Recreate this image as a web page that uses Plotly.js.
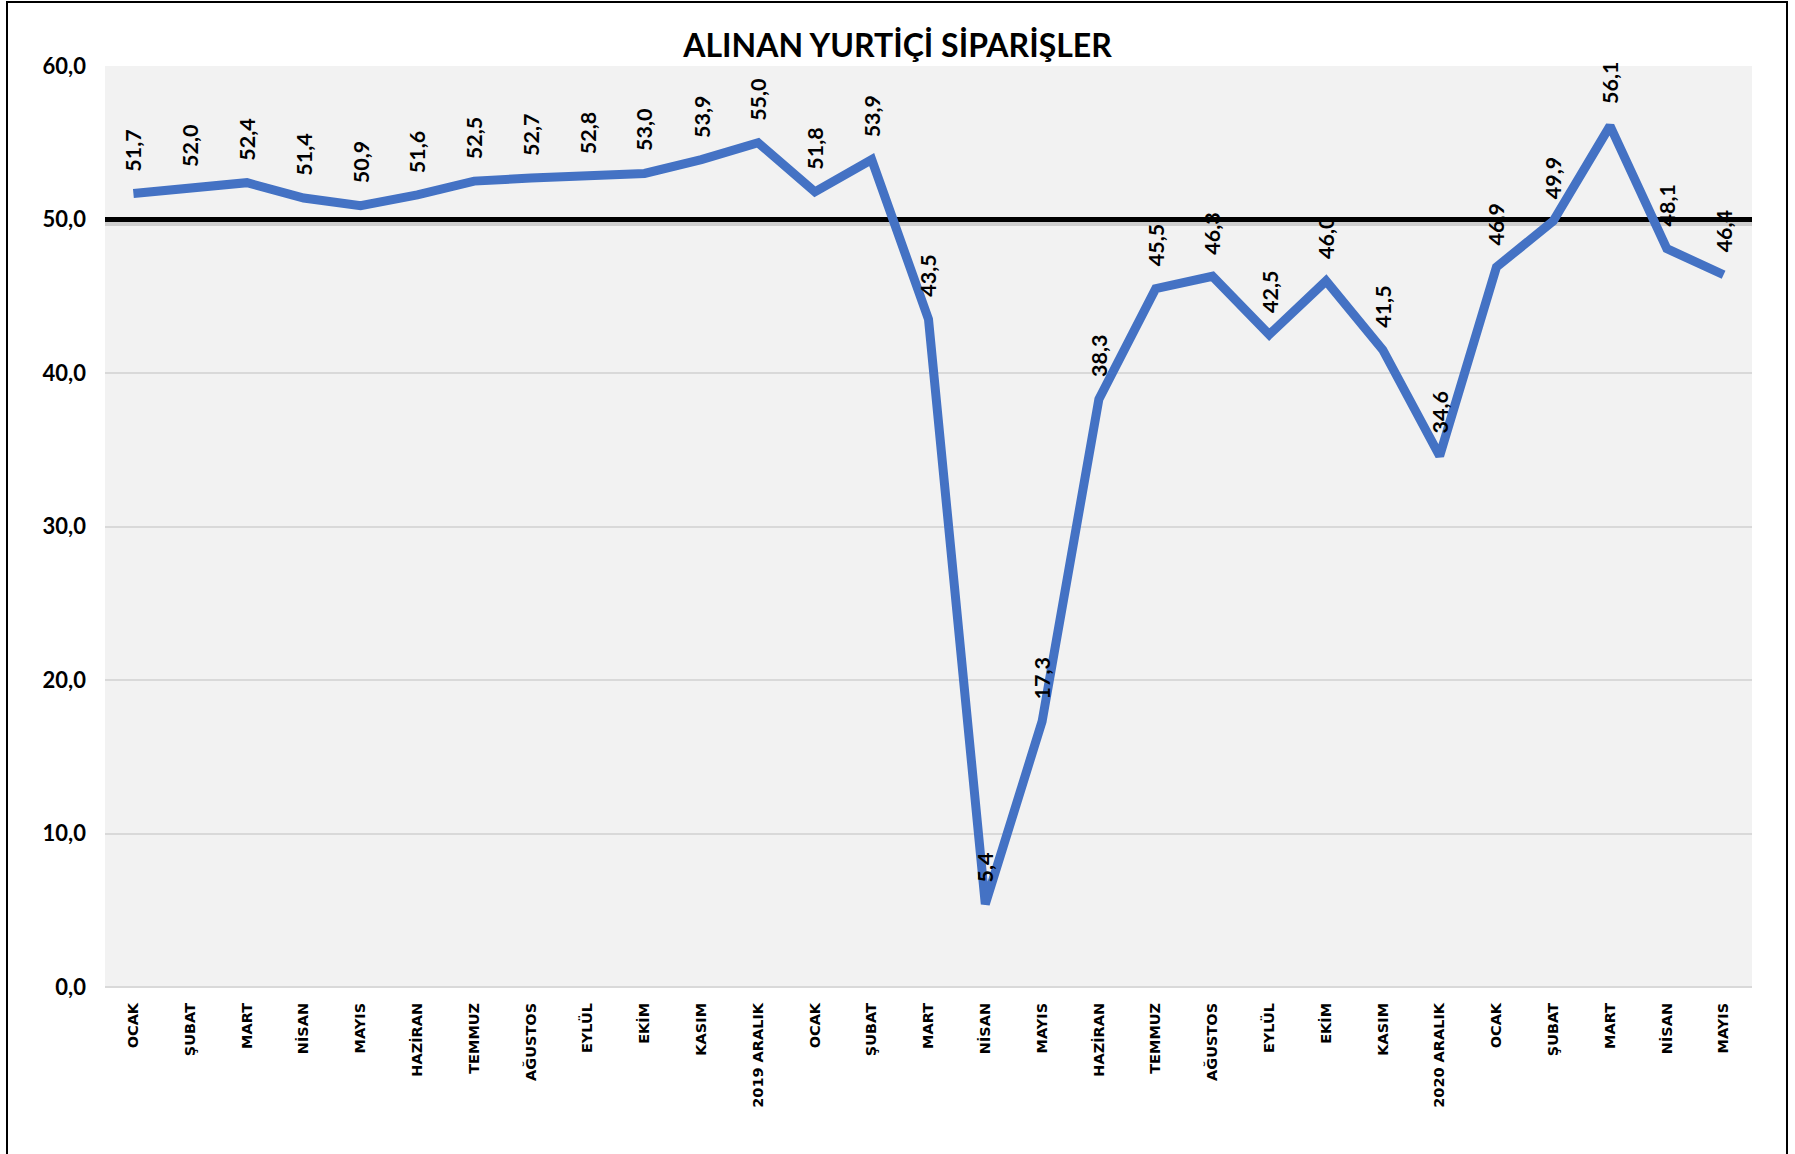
<!DOCTYPE html>
<html>
<head>
<meta charset="utf-8">
<script src="https://cdn.plot.ly/plotly-3.0.1.min.js"></script>
<style>
  html, body { margin: 0; padding: 0; background: #ffffff; }
  #chart { width: 1795px; height: 1154px; }
  #frame { position: absolute; left: 6px; top: 1px; width: 1778px; height: 1160px; border: 2.5px solid #000; pointer-events: none; }
</style>
</head>
<body>
<div id="chart"></div>
<div id="frame"></div>
<script>
// Month labels (x axis)
const monthLabels = [
  "OCAK","ŞUBAT","MART","NİSAN","MAYIS","HAZİRAN","TEMMUZ","AĞUSTOS","EYLÜL","EKİM","KASIM","2019 ARALIK",
  "OCAK","ŞUBAT","MART","NİSAN","MAYIS","HAZİRAN","TEMMUZ","AĞUSTOS","EYLÜL","EKİM","KASIM","2020 ARALIK",
  "OCAK","ŞUBAT","MART","NİSAN","MAYIS"
];
// Domestic orders received index values
const orderValues = [
  51.7, 52.0, 52.4, 51.4, 50.9, 51.6, 52.5, 52.7, 52.8, 53.0, 53.9, 55.0,
  51.8, 53.9, 43.5, 5.4, 17.3, 38.3, 45.5, 46.3, 42.5, 46.0, 41.5, 34.6,
  46.9, 49.9, 56.1, 48.1, 46.4
];
// Threshold line value
const thresholdValue = 50;
const yTickValues = [0, 10, 20, 30, 40, 50, 60];

const xIdx = monthLabels.map((_, i) => i);

const fmt = v => v.toFixed(1).replace('.', ',');

const labelFont = { family: "Lato, 'Open Sans', sans-serif", size: 21.5, color: "#000000" };

const annotations = orderValues.map((v, i) => ({
  x: i, y: v, xref: 'x', yref: 'y',
  text: '<b>' + fmt(v) + '</b>',
  showarrow: false,
  textangle: -90,
  xanchor: 'center', yanchor: 'bottom',
  yshift: 20,
  font: labelFont
}));

const traces = [
  {
    x: [-0.5, monthLabels.length - 0.5],
    y: [thresholdValue - 0.22, thresholdValue - 0.22],
    type: 'scatter', mode: 'lines',
    line: { color: 'rgba(0,0,0,0.15)', width: 6 },
    hoverinfo: 'skip', showlegend: false
  },
  {
    x: [-0.5, monthLabels.length - 0.5],
    y: [thresholdValue, thresholdValue],
    type: 'scatter', mode: 'lines',
    line: { color: '#000000', width: 5 },
    hoverinfo: 'skip', showlegend: false
  },
  {
    x: xIdx,
    y: orderValues,
    type: 'scatter', mode: 'lines',
    line: { color: '#4472C4', width: 9, shape: 'linear' },
    showlegend: false
  }
];

const layout = {
  width: 1795, height: 1154,
  paper_bgcolor: '#ffffff',
  plot_bgcolor: '#F2F2F2',
  margin: { l: 105, r: 43, t: 66, b: 167 },
  separators: ',.',
  title: {
    text: '<b>ALINAN YURTİÇİ SİPARİŞLER</b>',
    font: { family: "Lato, 'Open Sans', sans-serif", size: 32, color: '#000000' },
    x: 0.5, xanchor: 'center', xref: 'container',
    y: 1 - 46/1154, yanchor: 'middle'
  },
  xaxis: {
    range: [-0.5, monthLabels.length - 0.5],
    tickmode: 'array',
    tickvals: xIdx,
    ticktext: monthLabels.map(s => '<b>' + s + '</b>'),
    tickangle: -90,
    tickfont: { family: "'DejaVu Sans', sans-serif", size: 14.5, color: '#000000' },
    showgrid: false,
    zeroline: false,
    showline: false,
    ticks: '',
    ticklabelstandoff: 12,
    fixedrange: true
  },
  yaxis: {
    range: [0, 60],
    tickmode: 'array',
    tickvals: yTickValues,
    ticktext: yTickValues.map(v => '<b>' + fmt(v) + '</b>'),
    tickfont: { family: "Lato, 'Open Sans', sans-serif", size: 22, color: '#000000' },
    showgrid: true,
    gridcolor: '#D9D9D9',
    gridwidth: 2,
    zeroline: true,
    zerolinecolor: '#D9D9D9',
    zerolinewidth: 2,
    showline: false,
    ticks: '',
    ticklabelstandoff: 18,
    fixedrange: true
  },
  annotations: annotations
};

Plotly.newPlot('chart', traces, layout, { displayModeBar: false, staticPlot: true });
</script>
</body>
</html>
